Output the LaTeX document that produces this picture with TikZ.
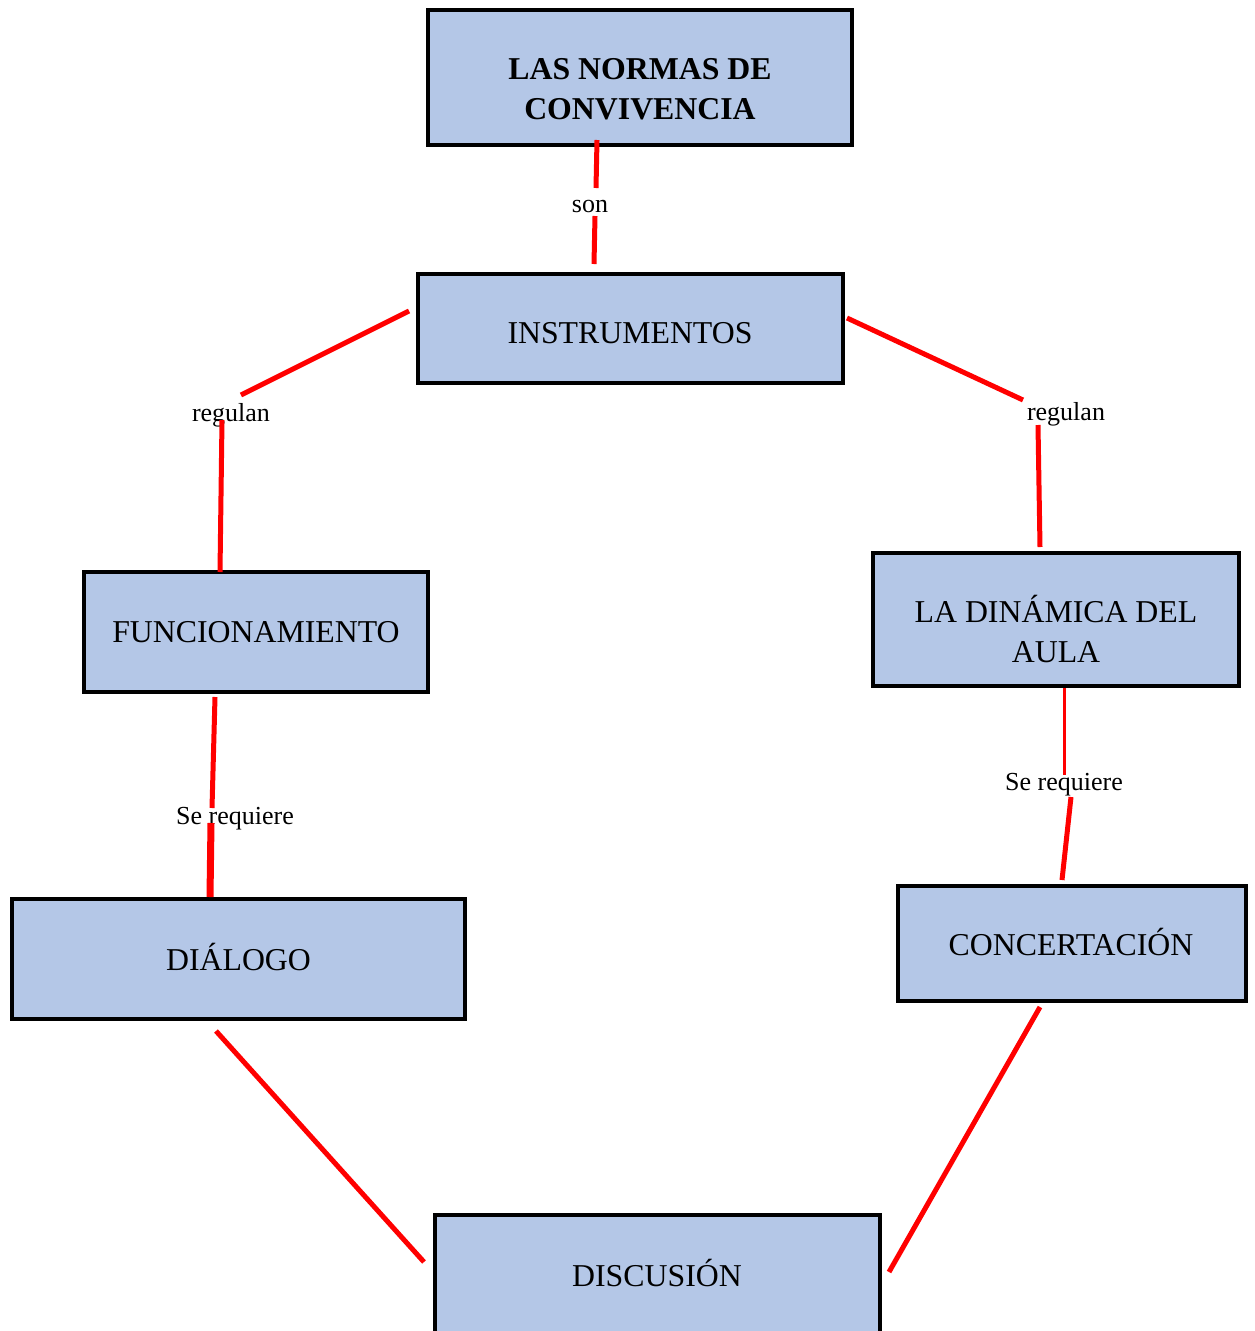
\documentclass[tikz,border=0pt]{standalone}
\usepackage{fontspec}
\setmainfont{Liberation Serif}
\definecolor{boxblue}{RGB}{180,199,231}
\begin{document}
\begin{tikzpicture}[x=1pt,y=-1pt,
  box/.style={draw=black,fill=boxblue,line width=4.5pt,inner sep=0pt,outer sep=0pt,anchor=north west},
  boxtext/.style={font=\fontsize{31.8}{40}\selectfont,align=center,inner sep=0pt,anchor=base},
  lbl/.style={font=\fontsize{26}{30}\selectfont,inner sep=0pt,anchor=base},
  link/.style={draw=red,line width=5pt},
  thinlink/.style={draw=red,line width=3pt}]
\useasboundingbox (0,0) rectangle (1255,1331);
\clip (0,0) rectangle (1255,1331);
% boxes
\node[box,minimum width=424pt,minimum height=135pt] (bnormas) at (428,10) {};
\node[box,minimum width=425pt,minimum height=109pt] (binstr) at (418,274) {};
\node[box,minimum width=344pt,minimum height=120pt] (bfunc) at (84,572) {};
\node[box,minimum width=366pt,minimum height=133pt] (bdin) at (873,553) {};
\node[box,minimum width=453pt,minimum height=120pt] (bdial) at (12,899) {};
\node[box,minimum width=348pt,minimum height=115pt] (bconc) at (898,886) {};
\node[box,minimum width=445pt,minimum height=140pt] (bdisc) at (435,1215) {};
% box texts
\node[boxtext,font=\fontsize{31.8}{40}\selectfont\bfseries] (tnormas) at (640,119) {LAS NORMAS DE\\CONVIVENCIA};
\node[boxtext] (tinstr) at (630,343.5) {INSTRUMENTOS};
\node[boxtext] (tfunc) at (256,642.5) {FUNCIONAMIENTO};
\node[boxtext] (tdin) at (1056,662.5) {LA DINÁMICA DEL\\AULA};
\node[boxtext] (tdial) at (238.5,970.5) {DIÁLOGO};
\node[boxtext] (tconc) at (1071,955.5) {CONCERTACIÓN};
\node[boxtext] (tdisc) at (657,1286) {DISCUSIÓN};
% labels
\node[lbl] (lson) at (590,212) {son};
\node[lbl] (lregl) at (231,421) {regulan};
\node[lbl] (lregr) at (1066,420) {regulan};
\node[lbl] (lreql) at (235,824) {Se requiere};
\node[lbl] (lreqr) at (1064,790) {Se requiere};
% connector end points
\coordinate (a1) at (597,140); \coordinate (a2) at (596,188);
\coordinate (a3) at (595,216); \coordinate (a4) at (594,264);
\coordinate (b1) at (409,311); \coordinate (b2) at (241,395);
\coordinate (b3) at (222,420); \coordinate (b4) at (220,572);
\coordinate (c1) at (847,318); \coordinate (c2) at (1023,400);
\coordinate (c3) at (1038,425); \coordinate (c4) at (1040,547);
\coordinate (d1) at (215,697); \coordinate (d2) at (212,808);
\coordinate (d3) at (211,823); \coordinate (d4) at (210,897);
\coordinate (e1) at (1064,688); \coordinate (e2) at (1064,775);
\coordinate (e3) at (1071,797); \coordinate (e4) at (1062,880);
\coordinate (f1) at (216,1031); \coordinate (f2) at (424,1262);
\coordinate (g1) at (1040,1007); \coordinate (g2) at (889,1272);
% connectors
\draw[link] (a1) -- (a2);
\draw[link] (a3) -- (a4);
\draw[link] (b1) -- (b2);
\draw[link] (b3) -- (b4);
\draw[link] (c1) -- (c2);
\draw[link] (c3) -- (c4);
\draw[link] (d1) -- (d2);
\draw[link,line width=7pt] (d3) -- (d4);
\draw[thinlink] (e1) -- (e2);
\draw[link] (e3) -- (e4);
\draw[link] (f1) -- (f2);
\draw[link] (g1) -- (g2);
\end{tikzpicture}
\end{document}
